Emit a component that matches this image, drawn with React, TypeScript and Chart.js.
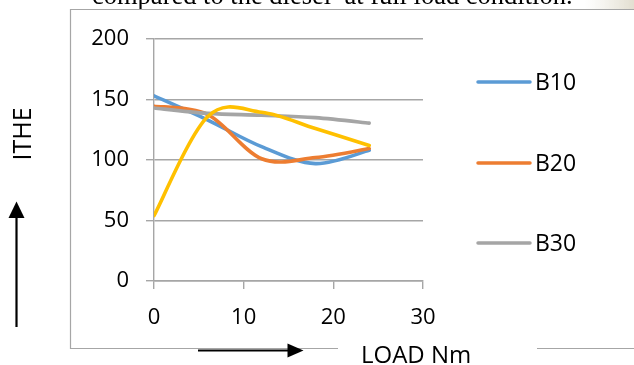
import React, { useEffect, useRef } from "react";
import { Chart, registerables } from "chart.js";

Chart.register(...registerables);

const loads = [0, 6, 12, 18, 24];
const b10 = [153, 133, 111, 97, 108];
const b20 = [144.5, 137.5, 101, 102, 109.5];
const b30 = [143, 138.5, 137, 135, 130.5];
const diesel = [54, 136, 139.5, 126, 112];
const seriesNames = ["B10", "B20", "B30", "Diesel"];
const seriesColors = ["#5B9BD5", "#ED7D31", "#A5A5A5", "#FFC000"];
const legendCount = 3;
const yTitle = "ITHE";
const xTitle = "LOAD Nm";
const caption = "compared to the diesel  at full load condition.";

const FONT = "'Open Sans', 'Noto Sans', sans-serif";

const smoothPlugin = {
  id: "excelSmooth",
  beforeDatasetDraw(chart: any, args: any) {
    const meta = args.meta;
    const line = meta.dataset;
    if (!line) return;
    line.updateControlPoints(chart.chartArea, "x");
    const pts = meta.data;
    for (let i = 0; i < pts.length; i++) {
      const p = pts[i];
      const prev = pts[Math.max(0, i - 1)];
      const next = pts[Math.min(pts.length - 1, i + 1)];
      const dx = (next.x - prev.x) / 6;
      const dy = (next.y - prev.y) / 6;
      p.cp1x = p.x - dx;
      p.cp1y = p.y - dy;
      p.cp2x = p.x + dx;
      p.cp2y = p.y + dy;
    }
  },
};

const decorPlugin = {
  id: "decor",
  beforeDraw(chart: any) {
    const ctx = chart.ctx;
    ctx.save();
    const g = ctx.createLinearGradient(585, 0, 634, 0);
    g.addColorStop(0, "rgba(232,228,216,0)");
    g.addColorStop(1, "rgba(226,222,208,1)");
    ctx.fillStyle = g;
    ctx.fillRect(585, 0, 49, 9);
    ctx.beginPath();
    ctx.rect(0, 0, 634, 9.5);
    ctx.clip();
    ctx.fillStyle = "#000";
    ctx.font = "26.5px 'Liberation Serif', 'Times New Roman', serif";
    ctx.textBaseline = "alphabetic";
    ctx.textAlign = "left";
    ctx.fillText(caption, 92, 4);
    ctx.restore();

    ctx.save();
    ctx.strokeStyle = "#a6a6a6";
    ctx.lineWidth = 1.2;
    ctx.beginPath();
    ctx.moveTo(640, 9.5);
    ctx.lineTo(70.5, 9.5);
    ctx.lineTo(70.5, 348.5);
    ctx.lineTo(338, 348.5);
    ctx.moveTo(537, 348.5);
    ctx.lineTo(640, 348.5);
    ctx.stroke();
    ctx.restore();
  },
  afterDraw(chart: any) {
    const ctx = chart.ctx;
    ctx.save();
    const ys = [82, 163, 243];
    for (let i = 0; i < legendCount; i++) {
      const ds = chart.data.datasets[i];
      ctx.strokeStyle = ds.borderColor;
      ctx.lineWidth = 3.5;
      ctx.lineCap = "round";
      ctx.beginPath();
      ctx.moveTo(478, ys[i]);
      ctx.lineTo(530, ys[i]);
      ctx.stroke();
      ctx.fillStyle = "#000";
      ctx.font = "23px " + FONT;
      ctx.textBaseline = "middle";
      ctx.textAlign = "left";
      ctx.fillText(ds.label, 535, ys[i] + 1);
    }
    ctx.save();
    ctx.translate(23, 134);
    ctx.rotate(-Math.PI / 2);
    ctx.font = "25px " + FONT;
    ctx.textAlign = "center";
    ctx.textBaseline = "middle";
    ctx.fillStyle = "#000";
    ctx.fillText(yTitle, 0, 1);
    ctx.restore();
    ctx.font = "24px " + FONT;
    ctx.textAlign = "left";
    ctx.textBaseline = "alphabetic";
    ctx.fillStyle = "#000";
    ctx.fillText(xTitle, 361, 363);
    ctx.strokeStyle = "#000";
    ctx.fillStyle = "#000";
    ctx.lineWidth = 2.2;
    ctx.lineCap = "butt";
    ctx.beginPath();
    ctx.moveTo(16.5, 327);
    ctx.lineTo(16.5, 214);
    ctx.stroke();
    ctx.beginPath();
    ctx.moveTo(16.5, 201.5);
    ctx.lineTo(24.5, 218);
    ctx.lineTo(8.5, 218);
    ctx.closePath();
    ctx.fill();
    ctx.beginPath();
    ctx.moveTo(198, 350.5);
    ctx.lineTo(292, 350.5);
    ctx.stroke();
    ctx.beginPath();
    ctx.moveTo(303.5, 350.5);
    ctx.lineTo(287.5, 343.5);
    ctx.lineTo(287.5, 357.5);
    ctx.closePath();
    ctx.fill();
    ctx.restore();
  },
};

export default function App() {
  const ref = useRef<HTMLCanvasElement | null>(null);
  useEffect(() => {
    if (!ref.current) return;
    const all = [b10, b20, b30, diesel];
    const orders = [4, 3, 2, 1];
    const chart = new Chart(ref.current, {
      type: "line",
      data: {
        datasets: all.map((vals, i) => ({
          label: seriesNames[i],
          data: vals.map((v, j) => ({ x: loads[j], y: v })),
          borderColor: seriesColors[i],
          backgroundColor: seriesColors[i],
          borderWidth: 3.6,
          pointRadius: 0,
          tension: 0.4,
          fill: false,
          order: orders[i],
          borderCapStyle: "round" as const,
        })),
      },
      options: {
        responsive: false,
        animation: false,
        devicePixelRatio: 1,
        layout: { padding: { left: 0, top: 39, right: 211, bottom: 0 } },
        plugins: { legend: { display: false }, tooltip: { enabled: false } },
        scales: {
          x: {
            type: "linear",
            min: 0,
            max: 30,
            ticks: { stepSize: 10, padding: 16, color: "#000", font: { family: FONT, size: 22 } },
            grid: { drawOnChartArea: false, drawTicks: true, tickLength: 8, color: "#a6a6a6", lineWidth: 1.4 },
            border: { display: true, color: "#a6a6a6", width: 1.4 },
            afterFit: (s: any) => { s.height = 84; },
          },
          y: {
            min: 0,
            max: 200,
            ticks: { stepSize: 50, padding: 17, color: "#000", font: { family: FONT, size: 22 } },
            grid: { drawOnChartArea: true, drawTicks: true, tickLength: 8, color: "#a6a6a6", lineWidth: 1.4 },
            border: { display: true, color: "#a6a6a6", width: 1.4 },
            afterFit: (s: any) => { s.width = 154; },
          },
        },
      },
      plugins: [smoothPlugin, decorPlugin],
    });
    return () => chart.destroy();
  }, []);
  return (
    <div style={{ position: "absolute", left: 0, top: 0, width: 634, height: 365, background: "#fff" }}>
      <canvas ref={ref} width={634} height={365} style={{ display: "block" }} />
    </div>
  );
}
